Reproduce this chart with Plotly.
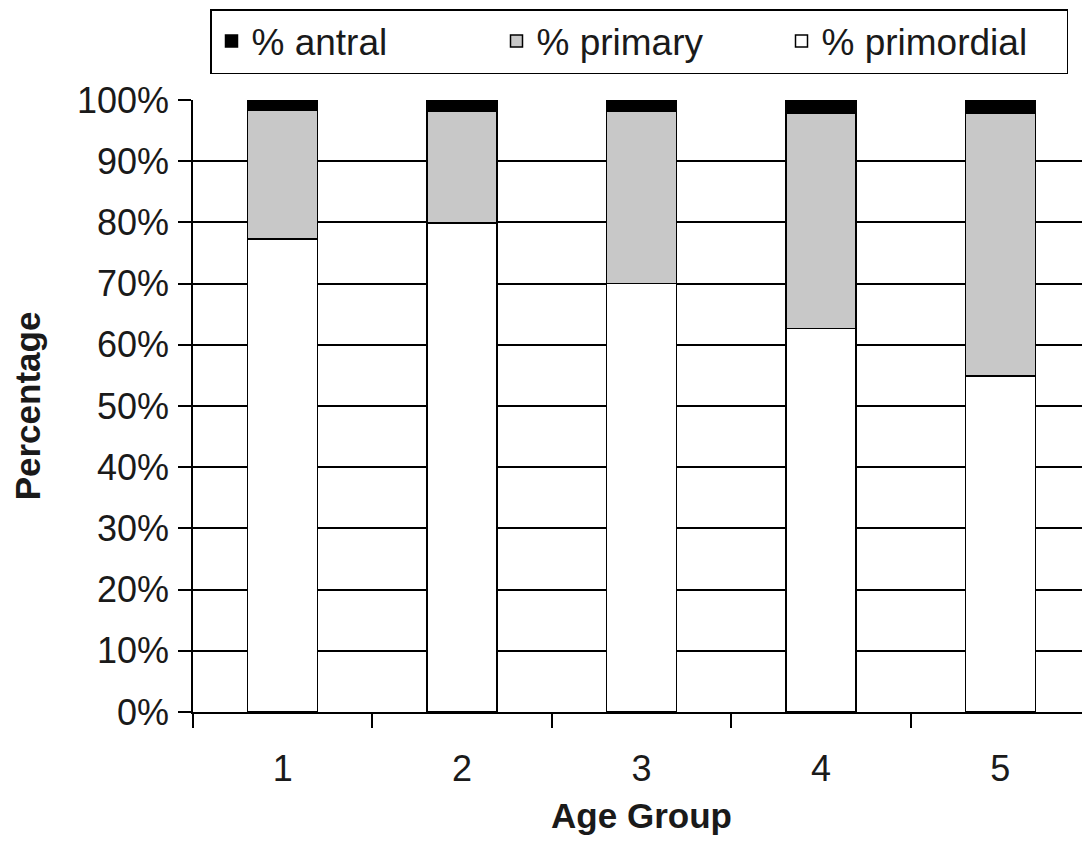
import plotly.graph_objects as go

age_groups = ["1", "2", "3", "4", "5"]
pct_primordial = [77.3, 79.9, 70.0, 62.7, 54.9]
pct_primary = [21.0, 18.3, 28.2, 35.2, 43.0]
pct_antral = [1.7, 1.8, 1.8, 2.1, 2.1]
y_ticks = [0, 10, 20, 30, 40, 50, 60, 70, 80, 90, 100]
y_tick_labels = [f"{v}%" for v in y_ticks]

FONT = "Liberation Sans, Arial, sans-serif"
W, H = 1082, 833

fig = go.Figure()
fig.add_trace(go.Bar(x=age_groups, y=pct_primordial, name="% primordial",
                     marker=dict(color="white", line=dict(color="black", width=1.5)),
                     width=0.39))
fig.add_trace(go.Bar(x=age_groups, y=pct_primary, name="% primary",
                     marker=dict(color="#c8c8c8", line=dict(color="black", width=1.5)),
                     width=0.39))
fig.add_trace(go.Bar(x=age_groups, y=pct_antral, name="% antral",
                     marker=dict(color="black", line=dict(color="black", width=1.5)),
                     width=0.39))

fig.update_layout(
    width=W, height=H,
    barmode="stack",
    paper_bgcolor="white", plot_bgcolor="white",
    margin=dict(l=185, r=0, t=92, b=129, autoexpand=False),
    font=dict(family=FONT, size=36, color="#1a1a1a"),
    showlegend=True,
    legend=dict(orientation="h", traceorder="reversed",
                xref="container", x=202 / W, xanchor="left",
                yref="container", y=1 - 1 / H, yanchor="top",
                bordercolor="black", borderwidth=1.5,
                font=dict(size=37, family=FONT),
                entrywidth=240, entrywidthmode="pixels",
                itemclick=False),
    xaxis=dict(type="category", range=[-0.5, 4.5], automargin=False,
               tickson="boundaries", ticks="outside", ticklen=14,
               tickcolor="black", tickwidth=1.5, ticklabelstandoff=24,
               showline=True, linecolor="black", linewidth=1.5,
               showgrid=False,
               tickfont=dict(size=36),
               title=dict(text="<b>Age Group</b>", font=dict(size=35), standoff=16)),
    yaxis=dict(range=[0, 100], tickvals=y_ticks, ticktext=y_tick_labels, automargin=False,
               ticks="outside", ticklen=13, tickcolor="black", tickwidth=1.5,
               ticklabelstandoff=2,
               showline=True, linecolor="black", linewidth=1.5,
               showgrid=True, gridcolor="black", gridwidth=1.5,
               zeroline=False,
               tickfont=dict(size=36),
               title=dict(text="<b>Percentage</b>", font=dict(size=35), standoff=34)),
)

fig.write_html("out.html")
